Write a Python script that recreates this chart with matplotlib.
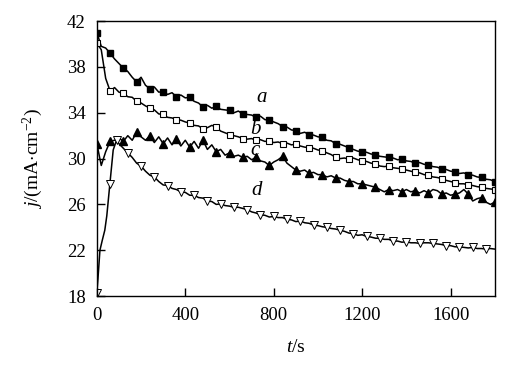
import matplotlib
matplotlib.use("Agg")
import matplotlib.pyplot as plt

plt.rcParams['font.family'] = ['Liberation Serif', 'DejaVu Serif']
plt.rcParams['mathtext.fontset'] = 'custom'
plt.rcParams['mathtext.rm'] = 'Liberation Serif'
plt.rcParams['mathtext.it'] = 'Liberation Serif:italic'

# time grid (s) for curves a, b, c
t_abc = list(range(0, 1801, 20))

a_vals = [41.0, 39.8, 39.65, 39.2, 38.7, 38.3, 37.9, 37.6, 37.1, 36.7,
          37.1, 36.4, 36.1, 36.25, 35.8, 35.85, 35.6, 35.75, 35.4, 35.55,
          35.3, 35.35, 35.0, 34.85, 34.5, 34.65, 34.4, 34.55, 34.3, 34.25,
          34.2, 34.0, 34.15, 33.9, 33.85, 33.8, 33.6, 33.7, 33.4, 33.35,
          33.2, 33.05, 32.8, 32.75, 32.5, 32.45, 32.2, 32.3, 32.1, 32.05,
          31.9, 31.85, 31.6, 31.55, 31.3, 31.25, 31.1, 30.95, 30.8, 30.65,
          30.6, 30.55, 30.4, 30.35, 30.2, 30.15, 30.1, 30.05, 29.9, 29.95,
          29.8, 29.75, 29.6, 29.65, 29.5, 29.45, 29.3, 29.25, 29.1, 29.05,
          28.9, 28.85, 28.7, 28.75, 28.6, 28.55, 28.4, 28.35, 28.2, 28.15,
          28.0]

b_vals = [40.1, 39.5, 37.0, 35.9, 36.2, 35.8, 35.7, 35.4, 35.35, 35.0,
          34.85, 34.6, 34.4, 34.25, 33.9, 33.85, 33.6, 33.55, 33.4, 33.35,
          33.2, 33.1, 32.9, 32.85, 32.6, 32.7, 32.9, 32.75, 32.4, 32.25,
          32.1, 32.0, 31.9, 31.75, 31.7, 31.75, 31.6, 31.65, 31.5, 31.55,
          31.4, 31.45, 31.3, 31.35, 31.2, 31.25, 31.1, 31.0, 30.95, 30.9,
          30.75, 30.7, 30.5, 30.35, 30.1, 30.0, 30.05, 29.95, 30.05, 29.9,
          29.8, 29.75, 29.6, 29.55, 29.35, 29.3, 29.35, 29.2, 29.15, 29.1,
          29.0, 28.9, 28.8, 28.75, 28.6, 28.55, 28.4, 28.35, 28.25, 28.1,
          28.0, 27.9, 27.8, 27.8, 27.7, 27.65, 27.55, 27.5, 27.4, 27.35,
          27.3]

c_vals = [31.3, 29.4, 30.6, 31.5, 31.6, 31.8, 31.5, 32.0, 31.6, 32.3,
          31.9, 31.6, 32.0, 31.4, 31.9, 31.3, 31.8, 31.2, 31.7, 31.1,
          31.6, 31.0, 31.5, 30.9, 31.6, 30.8, 31.2, 30.6, 30.8, 30.3,
          30.5, 30.2, 30.3, 30.1, 30.2, 29.9, 30.1, 29.8, 29.7, 29.4,
          29.7, 29.9, 30.2, 29.6, 29.3, 29.0, 28.9, 29.0, 28.7, 28.8,
          28.6, 28.6, 28.4, 28.5, 28.3, 28.3, 28.1, 28.0, 28.0, 27.8,
          27.8, 27.7, 27.6, 27.5, 27.3, 27.1, 27.3, 27.2, 27.3, 27.1,
          27.3, 27.1, 27.2, 27.0, 27.2, 27.0, 27.3, 27.2, 26.9, 27.0,
          26.8, 26.9, 27.0, 27.3, 26.9, 26.3, 26.5, 26.6, 26.2, 26.0,
          26.2]

t_d = [0, 5, 14, 25, 36, 45, 59, 74, 89, 100, 120, 140, 160, 180, 200,
       220, 240, 260, 280, 300, 320, 340, 360, 380, 400, 420, 440, 460,
       480, 500, 520, 540, 560, 580, 600, 620, 640, 660, 680, 700, 720,
       740, 760, 780, 800, 820, 840, 860, 880, 900, 920, 940, 960, 980,
       1000, 1020, 1040, 1060, 1080, 1100, 1120, 1140, 1160, 1180, 1200,
       1220, 1240, 1260, 1280, 1300, 1320, 1340, 1360, 1380, 1400, 1420,
       1440, 1460, 1480, 1500, 1520, 1540, 1560, 1580, 1600, 1620, 1640,
       1660, 1680, 1700, 1720, 1740, 1760, 1780, 1800]
d_vals = [18.3, 19.5, 22.0, 22.9, 23.75, 25.0, 27.8, 30.75, 31.6, 31.3,
          30.9, 30.5, 30.1, 29.6, 29.35, 28.9, 28.55, 28.4, 28.0, 27.7,
          27.65, 27.4, 27.3, 27.1, 27.05, 26.8, 26.8, 26.6, 26.55, 26.3,
          26.25, 26.0, 26.05, 25.9, 25.85, 25.75, 25.75, 25.65, 25.55, 25.35,
          25.25, 25.1, 25.05, 24.9, 24.95, 24.85, 24.85, 24.7, 24.65, 24.5,
          24.55, 24.4, 24.35, 24.2, 24.15, 24.05, 24.0, 23.9, 23.85, 23.75,
          23.65, 23.5, 23.45, 23.3, 23.35, 23.2, 23.15, 23.05, 23.05, 22.95,
          22.95, 22.8, 22.8, 22.7, 22.75, 22.65, 22.65, 22.6, 22.65, 22.65,
          22.6, 22.55, 22.5, 22.4, 22.4, 22.3, 22.3, 22.25, 22.2, 22.25,
          22.15, 22.15, 22.1, 22.15, 22.1]

labels = ['a', 'b', 'c', 'd']
label_pos_t = [746, 719, 715, 724]
label_pos_j = [35.3, 32.5, 30.7, 27.25]

fig = plt.figure(figsize=(5.07, 3.84), dpi=100)
ax = fig.add_axes([0.191, 0.229, 0.785, 0.716])

lw = 1.1
ax.plot(t_abc, a_vals, color='black', lw=lw, marker='s', ms=5,
        mfc='black', mec='black', markevery=slice(0, None, 3))
ax.plot(t_abc, b_vals, color='black', lw=lw, marker='s', ms=5,
        mfc='white', mec='black', mew=0.8, markevery=slice(0, None, 3))
ax.plot(t_abc, c_vals, color='black', lw=lw, marker='^', ms=6,
        mfc='black', mec='black', markevery=slice(0, None, 3))
d_marks = [0, 6, 8] + list(range(11, len(t_d), 3))
ax.plot(t_d, d_vals, color='black', lw=lw, marker='v', ms=6,
        mfc='white', mec='black', mew=0.7, markevery=d_marks)

for lab, tx, ty in zip(labels, label_pos_t, label_pos_j):
    ax.text(tx, ty, lab, fontsize=15, style='italic', ha='center', va='center')

ax.set_xlim(0, 1800)
ax.set_ylim(18, 42)
ax.set_xticks([0, 400, 800, 1200, 1600])
ax.set_yticks([18, 22, 26, 30, 34, 38, 42])
ax.tick_params(direction='in', length=6, width=1, labelsize=13.5)
ax.tick_params(axis='x', pad=8)
ax.tick_params(axis='y', pad=8)
for s in ax.spines.values():
    s.set_linewidth(1.0)

ax.set_xlabel(r'$t$/s', fontsize=14, labelpad=11)
ax.set_ylabel(r'$j$/(mA$\cdot$cm$^{-2}$)', fontsize=14, labelpad=16)

fig.savefig('out.png', dpi=100)
